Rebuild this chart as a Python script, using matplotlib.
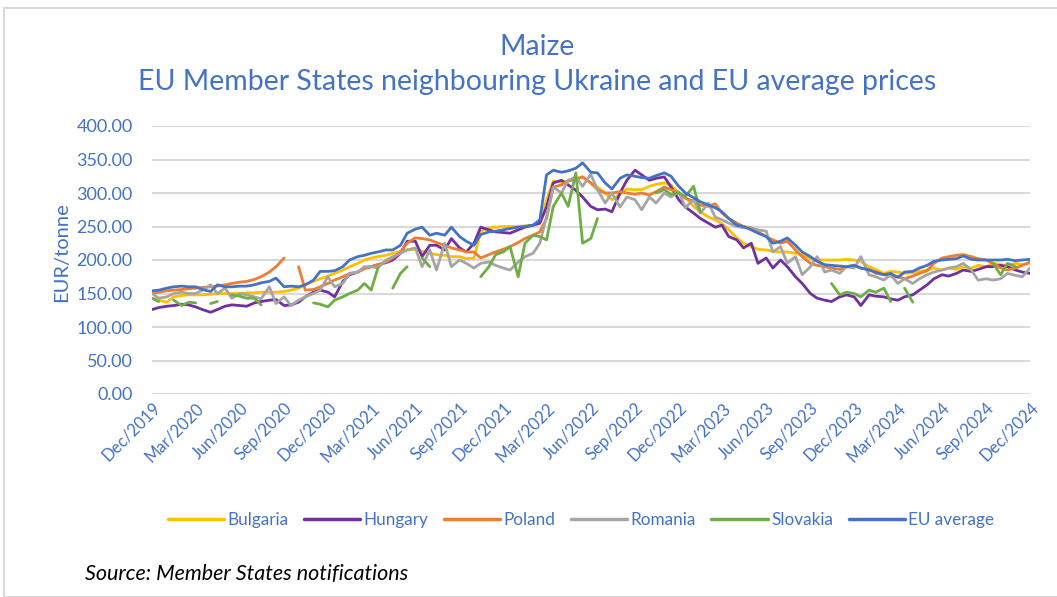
import numpy as np
import pandas as pd
import matplotlib
matplotlib.use("Agg")
import matplotlib.pyplot as plt
import matplotlib.dates as mdates
from matplotlib.patches import Rectangle

N = None
# semi-monthly observations, Dec 2019 -> Dec 2024
dates = pd.date_range("2019-12-01", periods=121, freq="SMS")

bulgaria = [143, 140,
    137, 145, 147, 148, 148, 148, 149, 150, 150, 150, 150, 151, 151, 152, 152, 152, 153, 155, 158, 163, 168, 172, 176, 180,
    185, 190, 195, 200, 203, 205, 207, 210, 213, 215, 216, 213, 210, 208, 207, 205, 205, 202, 203, 243, 248, 249, 250, 250,
    250, 251, 252, 255, 290, 318, 316, 318, 322, 324, 315, 309, 300, 290, 298, 306, 305, 305, 310, 313, 315, 312, 300, 294,
    280, 272, 264, 260, 254, 245, 233, 225, 220, 216, 215, 213, 212, 212, 210, 208, 202, 200, 200, 200, 200, 201, 200, 198,
    190, 186, 180, 183, 182, 180, 181, 183, 185, 188, 185, 188, 186, 190, 188, 192, 190, 195, 193, 192, 195, 193, 195]

hungary = [126, 129,
    131, 132, 134, 133, 130, 126, 122, 126, 131, 133, 132, 131, 136, 138, 140, 141, 132, 133, 137, 145, 152, 155, 152, 145,
    168, 178, 182, 188, 190, 193, 196, 200, 210, 228, 228, 205, 222, 222, 215, 232, 218, 212, 225, 249, 245, 242, 241, 240,
    245, 249, 252, 255, 279, 315, 319, 312, 304, 294, 280, 275, 276, 272, 300, 319, 334, 327, 319, 322, 324, 309, 290, 279,
    270, 262, 255, 249, 252, 235, 230, 218, 225, 195, 203, 188, 200, 190, 175, 165, 150, 143, 140, 138, 145, 148, 145, 132,
    148, 146, 145, 142, 140, 145, 148, 155, 163, 172, 178, 176, 180, 185, 183, 186, 190, 190, 192, 190, 185, 182, 180]

poland = [150, 152,
    154, 155, 156, 157, 158, 159, 160, 161, 163, 165, 167, 168, 171, 175, 182, 190, 203, N, 190, 155, 156, 160, 165, 170,
    175, 180, 182, 187, 190, 193, 197, 203, 212, 225, 233, 232, 230, 226, 222, 218, 215, 212, 212, 203, 208, 212, 216, 220,
    226, 232, 237, 242, 262, 309, 312, 318, 320, 324, 315, 305, 300, 300, 302, 300, 298, 300, 297, 302, 309, 305, 300, 292,
    288, 282, 280, 284, 270, 262, 255, 250, 248, 242, 235, 230, 225, 228, 215, 205, 195, 192, 190, 188, 186, 190, 192, 188,
    186, 180, 178, 176, 175, 172, 176, 180, 184, 195, 203, 205, 207, 208, 205, 202, 200, 195, 188, 185, 188, 192, 197]

romania = [150, 143,
    145, 150, 152, 150, 150, 155, 163, 150, 158, 143, 150, 148, 145, 142, 160, 135, 145, 132, 140, 145, 150, 155, 175, 160,
    165, 180, 182, 190, 190, 188, 200, 205, 210, 215, 218, 190, 215, 185, 225, 190, 200, 195, 188, 195, 197, 192, 188, 185,
    197, 205, 210, 225, 265, 309, 300, 319, 324, 310, 328, 305, 285, 300, 279, 294, 290, 275, 294, 285, 300, 294, 302, 278,
    290, 270, 285, 264, 260, 255, 250, 248, 248, 245, 243, 212, 220, 195, 205, 178, 190, 205, 182, 185, 180, 190, 188, 205,
    178, 175, 170, 178, 165, 172, 165, 172, 178, 182, 185, 188, 190, 195, 185, 170, 172, 170, 172, 180, 177, 175, 188]

slovakia = [143, 138,
    N, 140, 132, 137, 136, N, 135, 138, N, 148, 146, 143, 143, 133, N, N, N, N, N, N, 136, 134, 130, 140,
    145, 150, 155, 165, 155, 188, N, 158, 180, 190, N, 203, 190, N, N, N, N, N, N, 175, 190, 208, 212, 220,
    175, 225, 237, 235, 230, 280, 300, 280, 330, 225, 232, 262, N, N, N, N, N, N, N, 300, 305, 298, 300, 295,
    310, 272, N, N, N, N, N, N, N, N, N, N, N, N, N, N, N, N, N, 165, 148, 152, 150, 145,
    155, 152, 158, 138, N, 158, 137, N, N, N, N, N, N, N, N, N, N, 195, 178, 195, 190, N, N]

eu_average = [154, 155,
    158, 160, 161, 160, 160, 156, 153, 163, 160, 160, 161, 161, 163, 166, 168, 173, 160, 161, 160, 163, 170, 183, 183, 184,
    190, 200, 205, 207, 210, 212, 215, 215, 222, 240, 246, 249, 237, 240, 237, 249, 235, 228, 222, 238, 242, 243, 245, 247,
    249, 250, 252, 260, 327, 334, 331, 333, 337, 345, 331, 330, 315, 306, 322, 327, 325, 323, 322, 326, 330, 325, 310, 300,
    293, 287, 282, 278, 272, 262, 252, 250, 245, 240, 235, 225, 228, 233, 222, 212, 205, 198, 193, 192, 191, 190, 192, 188,
    185, 182, 178, 180, 174, 182, 183, 188, 192, 198, 200, 201, 202, 206, 201, 200, 200, 200, 200, 201, 199, 200, 201]

series_names = ["Bulgaria", "Hungary", "Poland", "Romania", "Slovakia", "EU average"]
series_values = [bulgaria, hungary, poland, romania, slovakia, eu_average]
series_colors = ["#FFC000", "#7030A0", "#ED7D31", "#A5A5A5", "#70AD47", "#4472C4"]

title_line1 = "Maize"
title_line2 = "EU Member States neighbouring Ukraine and EU average prices"
ylabel_text = "EUR/tonne"
source_text = "Source: Member States notifications"

BLUE = "#4472C4"
FONT = "Lato"
plt.rcParams["font.family"] = [FONT, "DejaVu Sans"]

W, H = 1057, 597
fig = plt.figure(figsize=(W / 100, H / 100), dpi=100)
fig.patch.set_facecolor("white")

# outer chart border
fig.patches.append(Rectangle((4 / W, 0), 1.2, 1 - 8 / H, transform=fig.transFigure,
                             fill=False, edgecolor="#D9D9D9", linewidth=1.5))

ax = fig.add_axes([152 / W, 1 - 394 / H, (1030 - 152) / W, (394 - 126) / H])
for name, vals, col in zip(series_names, series_values, series_colors):
    y = np.array([np.nan if v is None else v for v in vals], dtype=float)
    ax.plot(dates, y, color=col, linewidth=2.0, label=name, solid_capstyle="round")

ax.set_xlim(pd.Timestamp("2019-12-01"), pd.Timestamp("2024-12-01"))
ax.set_ylim(0, 400)
ax.set_yticks(np.arange(0, 401, 50))
ax.yaxis.set_major_formatter(matplotlib.ticker.FormatStrFormatter("%.2f"))
ax.xaxis.set_major_locator(mdates.MonthLocator(bymonth=(3, 6, 9, 12)))
ax.xaxis.set_major_formatter(mdates.DateFormatter("%b/%Y"))
ax.grid(axis="y", color="#D9D9D9", linewidth=1.5)
ax.set_axisbelow(True)
for s in ax.spines.values():
    s.set_visible(False)
ax.tick_params(axis="both", length=0, colors=BLUE)
ax.tick_params(axis="y", labelsize=13, pad=14)
ax.tick_params(axis="x", labelsize=12, pad=4)
for lab in ax.get_xticklabels():
    lab.set_rotation(45)
    lab.set_ha("right")
    lab.set_va("top")
    lab.set_rotation_mode("anchor")

fig.text(62 / W, 1 - 252 / H, ylabel_text, rotation=90, ha="center", va="center",
         color=BLUE, fontsize=14.5)
fig.text(537 / W, 1 - 47 / H, title_line1, ha="center", va="center", color=BLUE, fontsize=20.5)
fig.text(537 / W, 1 - 82 / H, title_line2, ha="center", va="center", color=BLUE, fontsize=20.5)

leg = fig.legend(loc="center", bbox_to_anchor=(581 / W, 1 - 520 / H), ncol=6, frameon=False,
                 fontsize=12.3, handlelength=3.3, handletextpad=0.2, columnspacing=0.9)
for t in leg.get_texts():
    t.set_color(BLUE)
for l in leg.get_lines():
    l.set_linewidth(2.5)

fig.text(85 / W, 1 - 574 / H, source_text, ha="left", va="center", style="italic",
         color="black", fontsize=15.5)

fig.savefig("out.png", dpi=100, facecolor="white")
